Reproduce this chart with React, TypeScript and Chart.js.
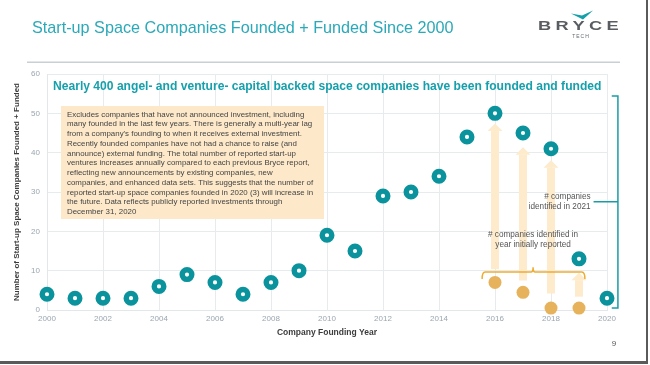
import React, { useEffect, useRef } from 'react';
import { Chart, registerables } from 'chart.js';

Chart.register(...registerables);

const FONT = "'Liberation Sans', Arial, Helvetica, sans-serif";

// ---- data ----
const years = [2000, 2001, 2002, 2003, 2004, 2005, 2006, 2007, 2008, 2009, 2010, 2011, 2012, 2013, 2014, 2015, 2016, 2017, 2018, 2019, 2020];
const fundedCounts = [4, 3, 3, 3, 6, 9, 7, 4, 7, 10, 19, 15, 29, 30, 34, 44, 50, 45, 41, 13, 3];
const initialYears = [2016, 2017, 2018, 2019];
const initialCounts = [7, 4.5, 0.5, 0.5];
const arrowFrom = [10.4, 7.5, 4.2, 3.4];
const arrowTo = [47.4, 41.4, 38.1, 9.5];
const xTickMin = 2000;
const xTickMax = 2020;
const xTickStep = 2;
const yTickMin = 0;
const yTickMax = 60;
const yTickStep = 10;

const titleText = 'Start-up Space Companies Founded + Funded Since 2000';
const headlineText = 'Nearly 400 angel- and venture- capital backed space companies have been founded and funded';
const yAxisTitle = 'Number of Start-up Space Companies Founded + Funded';
const xAxisTitle = 'Company Founding Year';
const noteLines = [
  'Excludes companies that have not announced investment, including',
  'many founded in the last few years. There is generally a multi-year lag',
  "from a company's founding to when it receives external investment.",
  'Recently founded companies have not had a chance to raise (and',
  'announce) external funding. The total number of reported start-up',
  'ventures increases annually compared to each previous Bryce report,',
  'reflecting new announcements by existing companies, new',
  'companies, and enhanced data sets. This suggests that the number of',
  'reported start-up space companies founded in 2020 (3) will increase in',
  'the future. Data reflects publicly reported investments through',
  'December 31, 2020',
];
const initialLabel = ['# companies identified in', 'year initially reported'];
const latestLabel = ['# companies', 'identified in 2021'];
const pageNumber = '9';

const TEAL = '#0a939c';
const GOLD = '#e6b35c';

const deco = {
  id: 'deco',
  beforeDatasetsDraw(chart: any) {
    const ctx = chart.ctx as CanvasRenderingContext2D;
    const xs = chart.scales.x;
    const ys = chart.scales.y;
    ctx.save();
    // note box
    ctx.fillStyle = '#fde9c9';
    ctx.fillRect(61, 106, 263, 113);
    ctx.fillStyle = '#444444';
    ctx.font = `7.9px ${FONT}`;
    ctx.textBaseline = 'middle';
    ctx.textAlign = 'left';
    noteLines.forEach((l, i) => ctx.fillText(l, 67, 114.5 + i * 9.75));
    // arrows
    ctx.fillStyle = '#fdebcc';
    initialYears.forEach((yr, i) => {
      const x = xs.getPixelForValue(yr);
      const yb = ys.getPixelForValue(arrowFrom[i]);
      const yt = ys.getPixelForValue(arrowTo[i]);
      const headH = 7.5, shaftW = 8, headW = 15;
      ctx.fillRect(x - shaftW / 2, yt + headH, shaftW, yb - yt - headH);
      ctx.beginPath();
      ctx.moveTo(x, yt);
      ctx.lineTo(x + headW / 2, yt + headH);
      ctx.lineTo(x - headW / 2, yt + headH);
      ctx.closePath();
      ctx.fill();
    });
    ctx.restore();
  },
  afterDatasetsDraw(chart: any) {
    const ctx = chart.ctx as CanvasRenderingContext2D;
    const xs = chart.scales.x;
    const ys = chart.scales.y;
    ctx.save();
    // gold bracket
    ctx.strokeStyle = '#f0ac30';
    ctx.lineWidth = 1.5;
    const x1 = xs.getPixelForValue(2015.54);
    const x2 = xs.getPixelForValue(2019.21);
    const xm = xs.getPixelForValue(2017.36);
    const yH = ys.getPixelForValue(9.66);
    const yE = ys.getPixelForValue(7.9);
    const yT = ys.getPixelForValue(10.9);
    ctx.beginPath();
    ctx.moveTo(x1, yE);
    ctx.quadraticCurveTo(x1, yH, x1 + 3, yH);
    ctx.lineTo(xm - 2, yH);
    ctx.quadraticCurveTo(xm, yH, xm, yT);
    ctx.quadraticCurveTo(xm, yH, xm + 2, yH);
    ctx.lineTo(x2 - 3, yH);
    ctx.quadraticCurveTo(x2, yH, x2, yE);
    ctx.stroke();
    ctx.fillStyle = '#555555';
    ctx.font = `8.2px ${FONT}`;
    ctx.textAlign = 'center';
    ctx.textBaseline = 'middle';
    ctx.fillText(initialLabel[0], xm, 235);
    ctx.fillText(initialLabel[1], xm, 244.5);
    // teal bracket
    ctx.strokeStyle = '#1a9ca6';
    const bx = xs.getPixelForValue(2020.39);
    const hx = xs.getPixelForValue(2020.17);
    const tx = xs.getPixelForValue(2019.52);
    const by1 = ys.getPixelForValue(54.4);
    const by2 = ys.getPixelForValue(0.5);
    const bm = ys.getPixelForValue(27.5);
    ctx.beginPath();
    ctx.moveTo(hx, by1);
    ctx.lineTo(bx, by1);
    ctx.lineTo(bx, by2);
    ctx.lineTo(hx, by2);
    ctx.moveTo(tx, bm);
    ctx.lineTo(bx, bm);
    ctx.stroke();
    ctx.textAlign = 'right';
    ctx.fillText(latestLabel[0], tx - 3, 197);
    ctx.fillText(latestLabel[1], tx - 3, 206.5);
    ctx.restore();
  },
  afterDraw(chart: any) {
    const ctx = chart.ctx as CanvasRenderingContext2D;
    ctx.save();
    // title
    ctx.fillStyle = '#2aa9b9';
    ctx.font = `16.2px ${FONT}`;
    ctx.textAlign = 'left';
    ctx.textBaseline = 'alphabetic';
    ctx.fillText(titleText, 32, 33);
    // separator
    ctx.fillStyle = '#c9d0d4';
    ctx.fillRect(27, 61.5, 593, 1.5);
    // headline
    ctx.fillStyle = '#16a0ac';
    ctx.font = `bold 12.1px ${FONT}`;
    ctx.textBaseline = 'middle';
    ctx.fillText(headlineText, 53, 87);
    // logo
    ctx.fillStyle = '#595d61';
    ctx.font = `bold 12.5px ${FONT}`;
    (ctx as any).letterSpacing = '3px';
    const w = ctx.measureText('BRYCE').width;
    ctx.save();
    ctx.translate(538, 27);
    ctx.scale(85 / w, 1);
    ctx.textAlign = 'left';
    ctx.fillText('BRYCE', 0, 0);
    ctx.restore();
    (ctx as any).letterSpacing = '0px';
    ctx.fillStyle = '#14a0a8';
    ctx.beginPath();
    ctx.moveTo(571, 13.5);
    ctx.lineTo(582, 15.5);
    ctx.lineTo(593, 10.5);
    ctx.lineTo(583, 19.5);
    ctx.closePath();
    ctx.fill();
    ctx.fillStyle = '#666b70';
    ctx.font = `5px ${FONT}`;
    ctx.textAlign = 'center';
    (ctx as any).letterSpacing = '1px';
    ctx.fillText('TECH', 581, 36.5);
    (ctx as any).letterSpacing = '0px';
    // page number
    ctx.fillStyle = '#555555';
    ctx.font = `8px ${FONT}`;
    ctx.fillText(pageNumber, 614, 344);
    // slide border
    ctx.fillStyle = '#5a5a5a';
    ctx.fillRect(646, 0, 2, 363);
    ctx.fillRect(0, 361, 648, 3);
    ctx.restore();
  },
};

export default function App() {
  const ref = useRef<HTMLCanvasElement | null>(null);
  useEffect(() => {
    if (!ref.current) return;
    const chart = new Chart(ref.current, {
      type: 'scatter',
      data: {
        datasets: [
          {
            label: 'initial',
            data: initialYears.map((x, i) => ({ x, y: initialCounts[i] })),
            backgroundColor: GOLD,
            borderColor: GOLD,
            pointRadius: 6.5,
            borderWidth: 0,
            clip: false,
          } as any,
          {
            label: 'funded',
            data: years.map((x, i) => ({ x, y: fundedCounts[i] })),
            backgroundColor: '#ffffff',
            borderColor: TEAL,
            pointRadius: 4.8,
            borderWidth: 5.4,
            clip: false,
          } as any,
        ],
      },
      options: {
        animation: false,
        responsive: false,
        devicePixelRatio: 1,
        layout: { padding: { top: 74, left: 0, right: 43, bottom: 15 } },
        plugins: { legend: { display: false }, tooltip: { enabled: false } },
        scales: {
          x: {
            type: 'linear',
            min: xTickMin,
            max: xTickMax,
            afterFit: (s: any) => { s.height = 40; },
            ticks: {
              stepSize: xTickStep,
              padding: 4,
              color: '#9aa6b0',
              font: { size: 8, family: FONT },
              callback: (v: any) => String(v),
              maxRotation: 0,
            },
            grid: { color: '#e6ecee', drawTicks: false },
            border: { color: '#e2e8ea' },
            title: {
              display: true,
              text: xAxisTitle,
              color: '#3c3c3c',
              font: { size: 8.5, weight: 'bold', family: FONT },
              padding: { top: 4, bottom: 12.5 },
            },
          },
          y: {
            min: yTickMin,
            max: yTickMax,
            afterFit: (s: any) => { s.width = 47; },
            ticks: {
              stepSize: yTickStep,
              padding: 7,
              color: '#9aa6b0',
              font: { size: 8, family: FONT },
            },
            grid: { color: '#e6ecee', drawTicks: false },
            border: { color: '#e2e8ea' },
            title: {
              display: true,
              text: yAxisTitle,
              color: '#3c3c3c',
              font: { size: 8, weight: 'bold', family: FONT },
              padding: { top: 12, bottom: 0 },
            },
          },
        },
      } as any,
      plugins: [deco],
    });
    return () => chart.destroy();
  }, []);
  return (
    <div style={{ position: 'absolute', left: 0, top: 0, width: 650, height: 365, background: '#ffffff' }}>
      <canvas ref={ref} width={650} height={365} style={{ display: 'block' }} />
    </div>
  );
}
